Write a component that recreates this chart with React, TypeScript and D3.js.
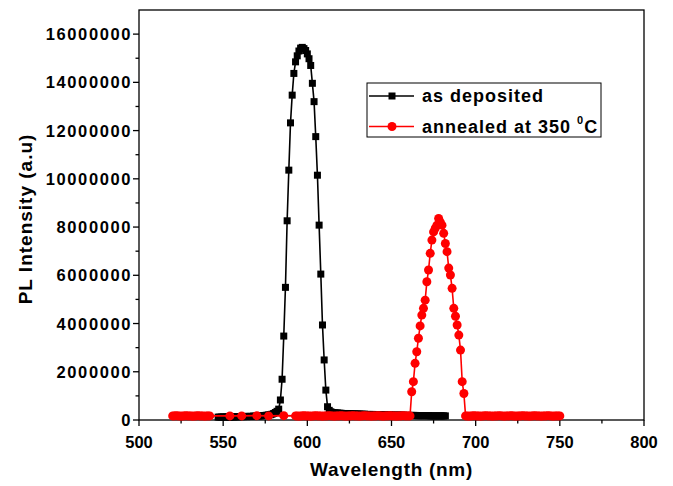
import React, { useEffect, useRef } from 'react';
import * as d3 from 'd3';

// PL spectra, values in units of 1e6 counts, sampled every 1 nm from the start wavelength
const depositedStart = 547;
const depositedValues = [
  0.12, 0.12, 0.12, 0.13, 0.12, 0.13, 0.13, 0.12, 0.13, 0.13, 0.13, 0.14, 0.13, 0.14, 0.14, 0.14, 0.15,
  0.14, 0.15, 0.15, 0.15, 0.16, 0.16, 0.16, 0.17, 0.17, 0.18, 0.18, 0.19, 0.2, 0.21, 0.22, 0.24,
  0.27, 0.31, 0.36, 0.45, 0.83, 1.69, 3.48, 5.5, 8.26, 10.36, 12.32, 13.47, 14.37, 14.85, 15.1, 15.3,
  15.42, 15.45, 15.4, 15.32, 15.18, 14.98, 14.7, 13.96, 13.2, 11.75, 10.15, 8.08, 6.05, 3.94, 2.49,
  1.24, 0.55, 0.4, 0.34, 0.31,
  0.3, 0.29, 0.29, 0.28, 0.28, 0.27, 0.27, 0.27, 0.26, 0.26, 0.26, 0.25, 0.25, 0.25, 0.25,
  0.24, 0.24, 0.24, 0.24, 0.23, 0.23, 0.23, 0.23, 0.23, 0.22, 0.22, 0.22, 0.22, 0.22, 0.21, 0.21, 0.21,
  0.21, 0.21, 0.21, 0.2, 0.2, 0.2, 0.2, 0.2, 0.2, 0.2, 0.19, 0.19, 0.19,
  0.19, 0.19, 0.19, 0.19, 0.18, 0.18, 0.18, 0.18, 0.18, 0.18, 0.18, 0.18, 0.17, 0.17, 0.17, 0.17, 0.17,
  0.17, 0.17, 0.17, 0.17, 0.17,
];

const annealedLeftStart = 520;
const annealedLeftValues = [
  0.17, 0.17, 0.18, 0.17, 0.17, 0.16, 0.17, 0.17, 0.18, 0.17, 0.17, 0.17, 0.16, 0.17, 0.17, 0.18,
  0.17, 0.17, 0.17, 0.16, 0.17, 0.17, 0.17,
];
const annealedSparseX = [554, 561, 570, 577, 586];
const annealedSparseValues = [0.17, 0.17, 0.18, 0.17, 0.18];
const annealedMainStart = 593;
const annealedMainValues = [
  0.17, 0.17, 0.16, 0.17, 0.17, 0.18, 0.17, 0.17, 0.17, 0.16, 0.17, 0.17, 0.18, 0.17, 0.17, 0.17,
  0.16, 0.17, 0.17, 0.17, 0.18, 0.17, 0.17, 0.16, 0.17, 0.17, 0.17, 0.18, 0.17, 0.17, 0.16, 0.17,
  0.17, 0.17, 0.18, 0.17, 0.17, 0.17, 0.16, 0.17, 0.17, 0.18, 0.17, 0.17, 0.17, 0.16, 0.17, 0.17,
  0.17, 0.18, 0.17, 0.17, 0.16, 0.17, 0.17, 0.17, 0.18, 0.17, 0.17, 0.17, 0.16, 0.17, 0.17, 0.17,
  0.18, 0.17, 0.17, 0.17, 0.17,
  // peak 662 - 693
  1.17, 1.59, 2.35, 2.83, 3.39, 3.9, 4.35, 4.63, 4.97, 5.73, 6.22, 6.91, 7.46, 7.8, 7.95, 8.08, 8.36,
  8.2, 8.08, 7.74, 7.32, 6.98, 6.3, 6.01, 5.46, 4.63, 4.3, 3.94, 3.52, 2.9, 1.59, 1.1,
  // 694 - 750
  0.17, 0.17, 0.16, 0.17, 0.17, 0.18, 0.17, 0.17, 0.17, 0.16, 0.17, 0.17, 0.18, 0.17, 0.17, 0.17,
  0.16, 0.17, 0.17, 0.17, 0.18, 0.17, 0.17, 0.16, 0.17, 0.17, 0.17, 0.18, 0.17, 0.17, 0.16, 0.17,
  0.17, 0.17, 0.18, 0.17, 0.17, 0.17, 0.16, 0.17, 0.17, 0.18, 0.17, 0.17, 0.17, 0.16, 0.17, 0.17,
  0.17, 0.18, 0.17, 0.17, 0.16, 0.17, 0.17, 0.17, 0.17,
];

const xTicks = [500, 550, 600, 650, 700, 750, 800];
const yTicks = [0, 2, 4, 6, 8, 10, 12, 14, 16];
const legendLabels = ['as deposited', 'annealed at 350 '];

type Pt = [number, number];

const App = () => {
  const ref = useRef<SVGSVGElement>(null);

  useEffect(() => {
    document.body.style.margin = '0';
    const svg = d3.select(ref.current);
    svg.selectAll('*').remove();

    const left = 139, right = 644, top = 10, bottom = 420;
    const x = d3.scaleLinear().domain([500, 800]).range([left, right]);
    const y = d3.scaleLinear().domain([0, 17]).range([bottom, top]);
    const font = 'Arial, "Liberation Sans", sans-serif';

    const deposited: Pt[] = depositedValues.map((v, i) => [depositedStart + i, v]);
    const annealed: Pt[] = [
      ...annealedLeftValues.map((v, i) => [annealedLeftStart + i, v] as Pt),
      ...annealedSparseX.map((w, i) => [w, annealedSparseValues[i]] as Pt),
      ...annealedMainValues.map((v, i) => [annealedMainStart + i, v] as Pt),
    ];

    const line = d3.line<Pt>().x(d => x(d[0])).y(d => y(d[1]));

    // frame
    svg.append('rect')
      .attr('x', left).attr('y', top)
      .attr('width', right - left).attr('height', bottom - top)
      .attr('fill', 'none').attr('stroke', '#000').attr('stroke-width', 1.3);

    // x ticks
    const xMinor = d3.range(525, 800, 50);
    svg.selectAll('.xt').data(xTicks).enter().append('line')
      .attr('x1', d => x(d)).attr('x2', d => x(d))
      .attr('y1', bottom).attr('y2', bottom + 6)
      .attr('stroke', '#000').attr('stroke-width', 1.3);
    svg.selectAll('.xm').data(xMinor).enter().append('line')
      .attr('x1', d => x(d)).attr('x2', d => x(d))
      .attr('y1', bottom).attr('y2', bottom + 3.5)
      .attr('stroke', '#000').attr('stroke-width', 1.3);
    svg.selectAll('.xl').data(xTicks).enter().append('text')
      .attr('x', d => x(d)).attr('y', 448)
      .attr('text-anchor', 'middle')
      .attr('font-family', font).attr('font-weight', 'bold').attr('font-size', 16.5)
      .text(d => d);

    // y ticks
    const yMinor = d3.range(1, 17, 2);
    svg.selectAll('.yt').data(yTicks).enter().append('line')
      .attr('x1', left - 6).attr('x2', left)
      .attr('y1', d => y(d)).attr('y2', d => y(d))
      .attr('stroke', '#000').attr('stroke-width', 1.3);
    svg.selectAll('.ym').data(yMinor).enter().append('line')
      .attr('x1', left - 3.5).attr('x2', left)
      .attr('y1', d => y(d)).attr('y2', d => y(d))
      .attr('stroke', '#000').attr('stroke-width', 1.3);
    svg.selectAll('.yl').data(yTicks).enter().append('text')
      .attr('x', left - 7).attr('y', d => y(d) + 6)
      .attr('text-anchor', 'end')
      .attr('font-family', font).attr('font-weight', 'bold').attr('font-size', 16.5)
      .attr('letter-spacing', 1.6)
      .text(d => String(d * 1000000));

    // axis titles
    svg.append('text')
      .attr('x', (left + right) / 2).attr('y', 476)
      .attr('text-anchor', 'middle')
      .attr('font-family', font).attr('font-weight', 'bold').attr('font-size', 19)
      .attr('letter-spacing', 0.7)
      .text('Wavelength (nm)');
    svg.append('text')
      .attr('transform', `translate(32,${(top + bottom) / 2 + 4}) rotate(-90)`)
      .attr('text-anchor', 'middle')
      .attr('font-family', font).attr('font-weight', 'bold').attr('font-size', 19)
      .attr('letter-spacing', 1)
      .text('PL Intensity (a.u)');

    // deposited series
    svg.append('path').datum(deposited)
      .attr('d', line).attr('fill', 'none').attr('stroke', '#000').attr('stroke-width', 1.6);
    svg.selectAll('.sq').data(deposited).enter().append('rect')
      .attr('x', d => x(d[0]) - 3.5).attr('y', d => y(d[1]) - 3.5)
      .attr('width', 7).attr('height', 7).attr('fill', '#000');

    // annealed series
    svg.append('path').datum(annealed)
      .attr('d', line).attr('fill', 'none').attr('stroke', '#ff0000').attr('stroke-width', 1.6);
    svg.selectAll('.ci').data(annealed).enter().append('circle')
      .attr('cx', d => x(d[0])).attr('cy', d => y(d[1])).attr('r', 4.5).attr('fill', '#ff0000');

    // legend
    const lg = svg.append('g');
    lg.append('rect').attr('x', 367).attr('y', 83).attr('width', 234).attr('height', 54)
      .attr('fill', '#fff').attr('stroke', '#000').attr('stroke-width', 1);
    const rows = [
      { yy: 96, color: '#000', shape: 'sq' },
      { yy: 126.5, color: '#ff0000', shape: 'ci' },
    ];
    rows.forEach((r, i) => {
      lg.append('line').attr('x1', 369).attr('x2', 414).attr('y1', r.yy).attr('y2', r.yy)
        .attr('stroke', r.color).attr('stroke-width', 1.6);
      if (r.shape === 'sq') {
        lg.append('rect').attr('x', 388.5).attr('y', r.yy - 3.5).attr('width', 7).attr('height', 7).attr('fill', r.color);
      } else {
        lg.append('circle').attr('cx', 392).attr('cy', r.yy).attr('r', 4.5).attr('fill', r.color);
      }
      const t = lg.append('text').attr('x', 422).attr('y', r.yy + 6)
        .attr('font-family', font).attr('font-weight', 'bold').attr('font-size', 18)
        .attr('letter-spacing', 1)
        .text(legendLabels[i]);
      if (i === 1) {
        t.append('tspan').attr('font-size', 11).attr('dy', -9).text('0');
        t.append('tspan').attr('font-size', 18).attr('dy', 9).text('C');
      }
    });
  }, []);

  return <svg ref={ref} width={673} height={486} style={{ display: 'block', background: '#fff' }} />;
};

export default App;
